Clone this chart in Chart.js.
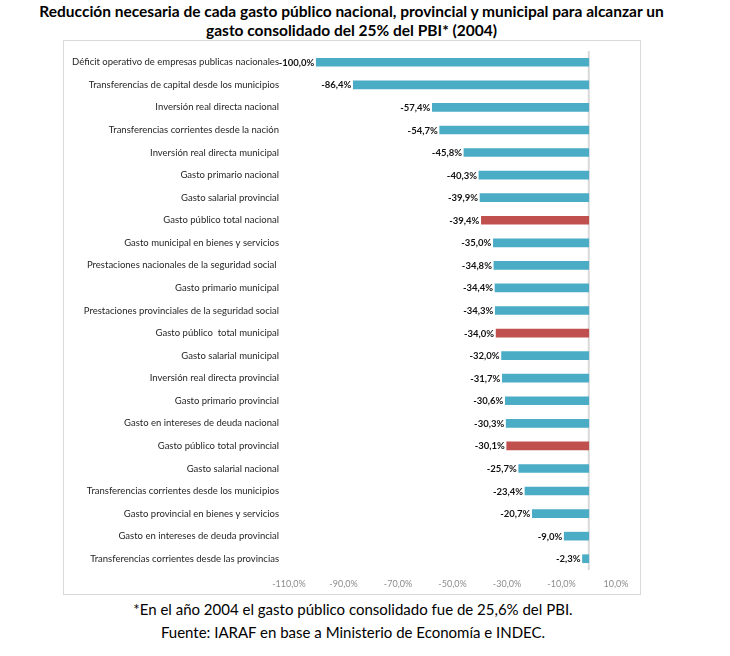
<!DOCTYPE html>
<html>
<head>
<meta charset="utf-8">
<script src="https://cdn.jsdelivr.net/npm/chart.js@4.4.0/dist/chart.umd.min.js"></script>
<style>
  html, body { margin: 0; padding: 0; background: #fff; }
  body { width: 730px; height: 656px; position: relative; overflow: hidden; font-family: Lato, "Open Sans", sans-serif; }
  #title { position: absolute; left: 0; top: 2px; width: 703px; text-align: center; font-weight: bold; font-size: 15.5px; line-height: 19px; color: #000; }
  #box { position: absolute; left: 63px; top: 40px; width: 576px; height: 553px; border: 1px solid #d9d9d9; }
  #box canvas { display: block; }
  #foot { position: absolute; left: 0; top: 598px; width: 706px; text-align: center; font-size: 15px; line-height: 23px; color: #000; }
</style>
</head>
<body>
<div id="title">Reducción necesaria de cada gasto público nacional, provincial y municipal para alcanzar un<br>gasto consolidado del 25% del PBI* (2004)</div>
<div id="box"><canvas id="c" width="576" height="553"></canvas></div>
<div id="foot">*En el año 2004 el gasto público consolidado fue de 25,6% del PBI.<br>Fuente: IARAF en base a Ministerio de Economía e INDEC.</div>
<script>
const categories = [
  "Déficit operativo de empresas publicas nacionales",
  "Transferencias de capital desde los municipios",
  "Inversión real directa nacional",
  "Transferencias corrientes desde la nación",
  "Inversión real directa municipal",
  "Gasto primario nacional",
  "Gasto salarial provincial",
  "Gasto público total nacional",
  "Gasto municipal en bienes y servicios",
  "Prestaciones nacionales de la seguridad social ",
  "Gasto primario municipal",
  "Prestaciones provinciales de la seguridad social",
  "Gasto público  total municipal",
  "Gasto salarial municipal",
  "Inversión real directa provincial",
  "Gasto primario provincial",
  "Gasto en intereses de deuda nacional",
  "Gasto público total provincial",
  "Gasto salarial nacional",
  "Transferencias corrientes desde los municipios",
  "Gasto provincial en bienes y servicios",
  "Gasto en intereses de deuda provincial",
  "Transferencias corrientes desde las provincias"
];
const values = [-100.0, -86.4, -57.4, -54.7, -45.8, -40.3, -39.9, -39.4, -35.0, -34.8, -34.4, -34.3, -34.0, -32.0, -31.7, -30.6, -30.3, -30.1, -25.7, -23.4, -20.7, -9.0, -2.3];
const highlighted = ["Gasto público total nacional", "Gasto público  total municipal", "Gasto público total provincial"];
const xTicks = [-110, -90, -70, -50, -30, -10, 10];

const BLUE = "#4BACC6", RED = "#C0504D";
const FONT = "Lato, 'Open Sans', sans-serif";
const fmt = v => v.toFixed(1).replace(".", ",") + "%";

const valueLabels = {
  id: "valueLabels",
  afterDatasetsDraw(chart) {
    const ctx = chart.ctx;
    const meta = chart.getDatasetMeta(0);
    ctx.save();
    ctx.font = "bold 9.5px " + FONT;
    ctx.fillStyle = "#111";
    ctx.textAlign = "right";
    ctx.textBaseline = "middle";
    meta.data.forEach((bar, i) => {
      ctx.fillText(fmt(values[i]), bar.x - 2, bar.y + 0.5);
    });
    ctx.restore();
  }
};
const zeroLine = {
  id: "zeroLine",
  beforeDatasetsDraw(chart) {
    const x = chart.scales.x.getPixelForValue(0);
    const a = chart.chartArea;
    const ctx = chart.ctx;
    ctx.save();
    ctx.strokeStyle = "#d9d9d9";
    ctx.lineWidth = 2;
    ctx.beginPath();
    ctx.moveTo(x, a.top);
    ctx.lineTo(x, a.bottom);
    ctx.stroke();
    ctx.restore();
  }
};

new Chart(document.getElementById("c"), {
  type: "bar",
  data: {
    labels: categories,
    datasets: [{
      data: values,
      backgroundColor: c => highlighted.includes(categories[c.dataIndex]) ? RED : BLUE,
      barThickness: 8,
      borderWidth: 0
    }]
  },
  options: {
    indexAxis: "y",
    responsive: false,
    animation: false,
    devicePixelRatio: 1,
    layout: { padding: { top: 10, right: 24, left: 0, bottom: 0 } },
    plugins: { legend: { display: false }, tooltip: { enabled: false }, title: { display: false } },
    scales: {
      x: {
        min: -110, max: 10,
        afterBuildTicks: s => { s.ticks = xTicks.map(v => ({ value: v })); },
        afterFit: s => { s.height = 24; s.paddingLeft = 0; s.paddingRight = 0; },
        grid: { display: false, drawTicks: false },
        border: { display: false },
        ticks: { padding: 9, color: "#8c8c8c", font: { family: FONT, size: 9 }, callback: v => v.toFixed(1).replace(".", ",") + "%" }
      },
      y: {
        afterFit: s => { s.width = 225; s.paddingTop = 0; s.paddingBottom = 0; },
        grid: { display: false, drawTicks: false },
        border: { display: false },
        ticks: { padding: 10, color: "#262626", font: { family: FONT, size: 9.5 }, autoSkip: false }
      }
    }
  },
  plugins: [valueLabels, zeroLine]
});
</script>
</body>
</html>
